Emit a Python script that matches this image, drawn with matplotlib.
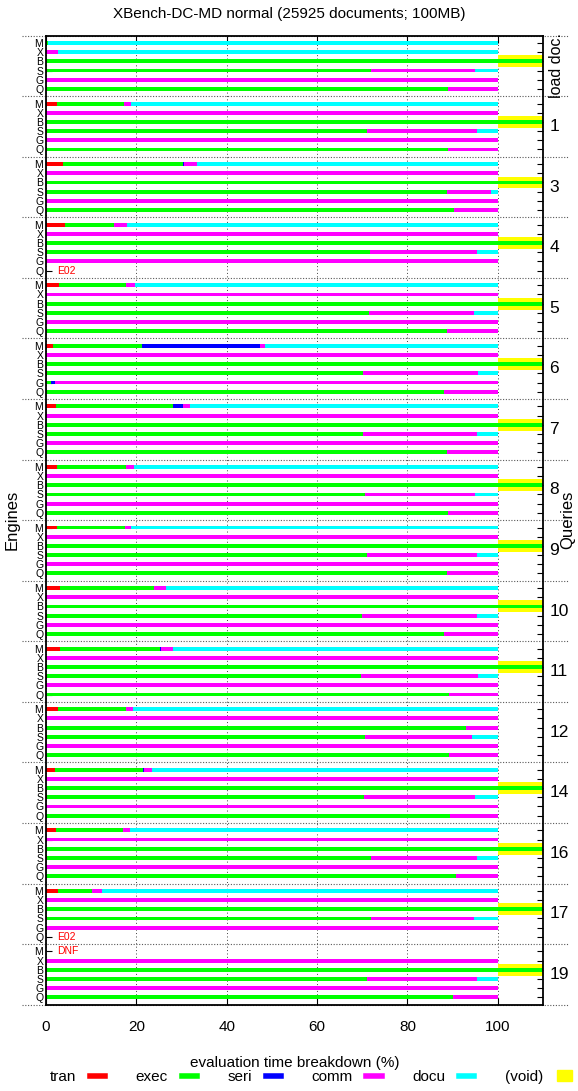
import matplotlib
matplotlib.use("Agg")
import matplotlib.pyplot as plt
from matplotlib.lines import Line2D
from matplotlib.patches import Patch

plt.rcParams['font.family'] = ['Liberation Sans', 'DejaVu Sans']

queries = ["load doc.", "1", "3", "4", "5", "6", "7", "8", "9", "10",
           "11", "12", "14", "16", "17", "19"]
engines = ["M", "X", "B", "S", "G", "Q"]

# breakdown in % per query (rows) and engine (columns M X B S G Q)
tran = [
    [0.0, 0, 0, 0.2, 0, 0],
    [2.5, 0, 0, 0.2, 0, 0],
    [3.8, 0, 0, 0.0, 0, 0],
    [4.3, 0, 0, 0.2, 0, 0],
    [2.9, 0, 0, 0.2, 0, 0],
    [1.6, 0, 0, 0.2, 0, 0],
    [2.2, 0, 0, 0.2, 0, 0],
    [2.5, 0, 0, 0.2, 0, 0],
    [2.5, 0, 0, 0.2, 0, 0],
    [3.2, 0, 0, 0.2, 0, 0],
    [3.1, 0, 0, 0.2, 0, 0],
    [2.6, 0, 0, 0.2, 0, 0],
    [2.0, 0, 0, 0.2, 0, 0],
    [2.3, 0, 0, 0.2, 0, 0],
    [2.6, 0, 0, 0.2, 0, 0],
    [0.0, 0, 0, 0.2, 0, 0],
]
exec_ = [
    [0.5, 0, 100, 71.8, 0, 89.0],
    [14.8, 0, 100, 70.9, 0, 89.0],
    [26.6, 0, 100, 88.8, 0, 90.3],
    [10.7, 0, 100, 71.6, 0, 0],
    [14.9, 0, 100, 71.3, 0, 88.8],
    [19.6, 0, 100, 69.9, 1.1, 88.2],
    [26.0, 0, 100, 69.9, 0, 88.8],
    [15.3, 0, 100, 70.5, 0, 89.0],
    [14.9, 0, 100, 70.8, 0, 88.7],
    [20.8, 0, 100, 69.8, 0, 88.0],
    [22.2, 0, 100, 69.5, 0, 89.2],
    [15.0, 0, 93.0, 70.5, 0, 89.3],
    [19.4, 0, 100, 70.1, 0, 89.4],
    [14.7, 0, 100, 71.8, 0, 90.7],
    [7.6, 0, 100, 71.7, 0, 0],
    [0.0, 0, 100, 70.9, 0, 90.0],
]
seri = [
    [0, 0, 0, 0, 0, 0],
    [0, 0, 0, 0, 0, 0],
    [0.2, 0, 0, 0, 0, 0],
    [0, 0, 0, 0, 0, 0],
    [0, 0, 0, 0, 0, 0],
    [26.1, 0, 0, 0, 0.9, 0],
    [2.2, 0, 0, 0, 0, 0],
    [0, 0, 0, 0, 0, 0],
    [0, 0, 0, 0, 0, 0],
    [0, 0, 0, 0, 0, 0],
    [0.2, 0, 0, 0, 0, 0],
    [0, 0, 0, 0, 0, 0],
    [0.3, 0, 0, 0, 0, 0],
    [0, 0, 0, 0, 0, 0],
    [0, 0, 0, 0, 0, 0],
    [0, 0, 0, 0, 0, 0],
]
comm = [
    [0.0, 2.6, 0, 22.9, 100, 11.0],
    [1.5, 100, 0, 24.2, 100, 11.0],
    [2.9, 100, 0, 9.6, 100, 9.7],
    [3.0, 100, 0, 23.6, 100, 0],
    [1.9, 100, 0, 23.3, 100, 11.2],
    [1.1, 100, 0, 25.6, 98.0, 11.8],
    [1.5, 100, 0, 25.4, 100, 11.2],
    [1.6, 100, 0, 24.3, 100, 11.0],
    [1.5, 100, 0, 24.4, 100, 11.3],
    [2.6, 100, 0, 25.3, 100, 12.0],
    [2.7, 100, 0, 26.0, 100, 10.8],
    [1.7, 100, 7.0, 23.7, 100, 10.7],
    [1.8, 100, 0, 24.7, 100, 10.6],
    [1.7, 100, 0, 23.5, 100, 9.3],
    [2.2, 100, 0, 22.9, 100, 0],
    [0.0, 100, 0, 24.2, 100, 10.0],
]
docu = [
    [99.5, 97.4, 0, 5.1, 0, 0],
    [81.2, 0, 0, 4.7, 0, 0],
    [66.5, 0, 0, 1.6, 0, 0],
    [82.0, 0, 0, 4.6, 0, 0],
    [80.3, 0, 0, 5.2, 0, 0],
    [51.6, 0, 0, 4.3, 0, 0],
    [68.1, 0, 0, 4.5, 0, 0],
    [80.6, 0, 0, 5.0, 0, 0],
    [81.1, 0, 0, 4.6, 0, 0],
    [73.4, 0, 0, 4.7, 0, 0],
    [71.8, 0, 0, 4.3, 0, 0],
    [80.7, 0, 0, 5.6, 0, 0],
    [76.5, 0, 0, 5.0, 0, 0],
    [81.3, 0, 0, 4.5, 0, 0],
    [87.6, 0, 0, 5.2, 0, 0],
    [0.0, 0, 0, 4.7, 0, 0],
]
# engine B has a (void) part for every query except 12
void = [1, 1, 1, 1, 1, 1, 1, 1, 1, 1, 1, 0, 1, 1, 1, 1]
failures = [("4", "Q", "E02"), ("17", "Q", "E02"), ("19", "M", "DNF")]

parts = [("tran", tran, "#ff0000"), ("exec", exec_, "#00ff00"),
         ("seri", seri, "#0000ff"), ("comm", comm, "#ff00ff"),
         ("docu", docu, "#00ffff")]
void_color = "#ffff00"

H = 6.6      # height of one query block in row units
OFF = 0.8    # first row offset inside a block
BAR = 0.42

fig = plt.figure(figsize=(5.78, 10.91), dpi=100)
ax = fig.add_axes([0.0796, 0.0791, 0.8598, 0.8882])

yticks = []
for qi, q in enumerate(queries):
    for ei, e in enumerate(engines):
        y = qi * H + OFF + ei
        yticks.append(y)
        left = 0
        for name, arr, col in parts:
            w = arr[qi][ei]
            if w > 0:
                ax.barh(y, w, left=left, height=BAR, color=col, lw=0)
            left += w
        if e == "B" and void[qi]:
            ax.barh(y, 10, left=100, height=1.3, color=void_color, lw=0)
            ax.barh(y, 10, left=100, height=BAR, color=parts[1][2], lw=0)
    yc = qi * H + H / 2
    if q == "load doc.":
        ax.text(111.4, yc, q, rotation=90, ha="left", va="center",
                fontsize=11.5, clip_on=False)
    else:
        ax.text(111.4, yc, q, ha="left", va="center", fontsize=12.5,
                clip_on=False)

for q, e, msg in failures:
    y = queries.index(q) * H + OFF + engines.index(e)
    ax.text(2.4, y, msg, color="#ff0000", fontsize=7.5, va="center",
            ha="left")

for k in range(len(queries) + 1):
    ax.plot([-5.3, 115.5], [k * H, k * H], color="0.35", lw=0.8,
            ls=(0, (1, 1.5)), clip_on=False, zorder=0.5)

ax.set_xlim(0, 110)
ax.set_ylim(len(queries) * H, 0)
ax.set_xticks([0, 20, 40, 60, 80, 100])
ax.set_yticks(yticks)
ax.set_yticklabels(engines * len(queries))
ax.grid(axis="x", color="0.25", lw=0.7, ls=(0, (1, 2.5)))
ax.set_axisbelow(True)
ax.tick_params(axis="x", direction="in", top=True, length=5, labelsize=11,
               pad=11)
ax.tick_params(axis="y", direction="in", right=True, length=4, labelsize=7.5,
               pad=2)
for s in ax.spines.values():
    s.set_linewidth(1.3)

ax.set_xlabel("evaluation time breakdown (%)", fontsize=11, labelpad=16)
fig.text(0.021, 0.5235, "Engines", rotation=90, ha="center", va="center",
         fontsize=12)
fig.text(0.983, 0.5235, "Queries", rotation=90, ha="center", va="center",
         fontsize=12)
fig.text(0.5, 0.987, "XBench-DC-MD normal (25925 documents; 100MB)",
         ha="center", va="center", fontsize=11)

handles = [Line2D([], [], color=c, lw=4) for _, _, c in parts]
handles.append(Patch(color=void_color))
labels = [n for n, _, _ in parts] + ["(void)"]
fig.legend(handles, labels, ncol=6, loc="center", markerfirst=False,
           frameon=False, fontsize=11, handlelength=1.0, columnspacing=2.0,
           handletextpad=0.9, bbox_to_anchor=(0.538, 0.0128))

fig.savefig("out.png", dpi=100)
